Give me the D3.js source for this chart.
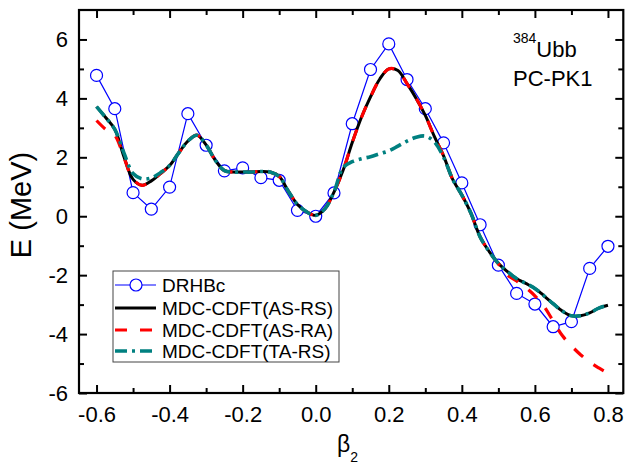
<!doctype html>
<html>
<head>
<meta charset='utf-8' />
<script src="https://cdn.jsdelivr.net/npm/d3@7"></script>
<style>
  body { margin: 0; background: #fff; }
  svg text { font-family: "Liberation Sans", Arial, sans-serif; fill: #000; }
</style>
</head>
<body>
<div id="chart"></div>
<script>
// DRHBc points (every 0.05 in beta2)
var drhbcBeta = [-0.6,-0.55,-0.5,-0.45,-0.4,-0.35,-0.3,-0.25,-0.2,-0.15,-0.1,-0.05,0.0,0.05,0.1,0.15,0.2,0.25,0.3,0.35,0.4,0.45,0.5,0.55,0.6,0.65,0.7,0.75,0.8];
var drhbcE = [4.78,3.65,0.80,0.24,0.99,3.48,2.41,1.54,1.64,1.31,1.22,0.20,0.0,0.79,3.14,4.98,5.85,4.64,3.65,2.49,1.13,-0.29,-1.66,-2.62,-2.98,-3.75,-3.58,-1.77,-1.02];

// MDC-CDFT(AS-RS)
var asrsBeta = [-0.6,-0.575,-0.55,-0.525,-0.5,-0.475,-0.45,-0.425,-0.4,-0.375,-0.35,-0.325,-0.3,-0.275,-0.25,-0.225,-0.2,-0.175,-0.15,-0.125,-0.1,-0.075,-0.05,-0.025,0.0,0.025,0.05,0.075,0.1,0.125,0.15,0.175,0.2,0.225,0.25,0.275,0.3,0.325,0.35,0.375,0.4,0.425,0.45,0.475,0.5,0.525,0.55,0.575,0.6,0.625,0.65,0.675,0.7,0.725,0.75,0.775,0.8];
var asrsE = [3.72,3.35,2.95,2.02,1.25,1.05,1.2,1.45,1.72,2.15,2.55,2.75,2.42,1.9,1.55,1.5,1.5,1.5,1.52,1.5,1.35,0.85,0.4,0.15,0.03,0.25,0.82,1.56,2.5,3.35,4.05,4.65,5.0,4.95,4.5,4.0,3.42,2.7,2.05,1.25,0.72,0.1,-0.7,-1.2,-1.6,-1.88,-2.12,-2.28,-2.45,-2.7,-2.97,-3.22,-3.38,-3.38,-3.28,-3.12,-3.02];

// MDC-CDFT(AS-RA)
var asraBeta = [-0.6,-0.575,-0.55,-0.525,-0.5,-0.475,-0.45,-0.425,-0.4,-0.375,-0.35,-0.325,-0.3,-0.275,-0.25,-0.225,-0.2,-0.175,-0.15,-0.125,-0.1,-0.075,-0.05,-0.025,0.0,0.025,0.05,0.075,0.1,0.125,0.15,0.175,0.2,0.225,0.25,0.275,0.3,0.325,0.35,0.375,0.4,0.425,0.45,0.475,0.5,0.525,0.55,0.575,0.6,0.625,0.65,0.675,0.7,0.725,0.75,0.775,0.8];
var asraE = [3.25,2.95,2.75,2.0,1.25,1.05,1.2,1.45,1.72,2.15,2.55,2.75,2.42,1.9,1.55,1.5,1.5,1.5,1.52,1.5,1.35,0.85,0.4,0.15,0.03,0.25,0.82,1.56,2.5,3.35,4.05,4.65,5.0,4.95,4.5,4.0,3.42,2.7,2.05,1.25,0.72,0.1,-0.7,-1.2,-1.62,-2.0,-2.2,-2.42,-2.7,-3.06,-3.56,-4.05,-4.4,-4.7,-4.95,-5.15,-5.33];

// MDC-CDFT(TA-RS)
var tarsBeta = [-0.6,-0.575,-0.55,-0.525,-0.5,-0.475,-0.45,-0.425,-0.4,-0.375,-0.35,-0.325,-0.3,-0.275,-0.25,-0.225,-0.2,-0.175,-0.15,-0.125,-0.1,-0.075,-0.05,-0.025,0.0,0.025,0.05,0.075,0.1,0.125,0.15,0.175,0.2,0.225,0.25,0.275,0.3,0.325,0.35,0.375,0.4,0.425,0.45,0.475,0.5,0.525,0.55,0.575,0.6,0.625,0.65,0.675,0.7,0.725,0.75,0.775,0.8];
var tarsE = [3.72,3.35,2.95,2.15,1.45,1.27,1.3,1.48,1.72,2.15,2.55,2.75,2.42,1.9,1.55,1.5,1.5,1.5,1.52,1.5,1.35,0.85,0.4,0.15,0.03,0.25,0.82,1.65,1.85,1.95,2.02,2.12,2.22,2.38,2.55,2.68,2.72,2.52,2.0,1.25,0.72,0.1,-0.7,-1.2,-1.6,-1.88,-2.12,-2.28,-2.45,-2.7,-2.97,-3.22,-3.38,-3.38,-3.28,-3.12,-3.02];

var xMajor = [-0.6,-0.4,-0.2,0.0,0.2,0.4,0.6,0.8];
var xMinor = [-0.5,-0.3,-0.1,0.1,0.3,0.5,0.7];
var yMajor = [-6,-4,-2,0,2,4,6];
var yMinor = [-5,-3,-1,1,3,5];

var legendNames = ["DRHBc","MDC-CDFT(AS-RS)","MDC-CDFT(AS-RA)","MDC-CDFT(TA-RS)"];

var W = 626, H = 464;
var L = 79, R = 623.3, T = 10, B = 393;

var svg = d3.select("#chart").append("svg").attr("width", W).attr("height", H);

var x = d3.scaleLinear().domain([-0.648, 0.842]).range([L, R]);
var y = d3.scaleLinear().domain([-6, 7]).range([B, T]);

function zip(bs, es) { return bs.map(function (b, i) { return [b, es[i]]; }); }

// axes, ticks inward
function addAxis(axis, tx, ty, vals, size, fmt, pad) {
  var g = svg.append("g").attr("transform", "translate(" + tx + "," + ty + ")")
    .call(axis.tickValues(vals).tickSize(size).tickPadding(pad).tickFormat(fmt));
  g.select(".domain").remove();
  g.selectAll(".tick line").attr("stroke", "#000").attr("stroke-width", 2);
  g.selectAll("text").style("font-size", "22px").attr("fill", "#000");
  return g;
}
var none = function () { return ""; };
var fx = function (d) { return d.toFixed(1); };
var fy = function (d) { return String(d); };

addAxis(d3.axisBottom(x), 0, B, xMajor, -8, fx, 13);
addAxis(d3.axisBottom(x), 0, B, xMinor, -5, none, 0);
addAxis(d3.axisTop(x), 0, T, xMajor, -8, none, 0);
addAxis(d3.axisTop(x), 0, T, xMinor, -5, none, 0);
addAxis(d3.axisLeft(y), L, 0, yMajor, -8, fy, 11);
addAxis(d3.axisLeft(y), L, 0, yMinor, -5, none, 0);
addAxis(d3.axisRight(y), R, 0, yMajor, -8, none, 0);
addAxis(d3.axisRight(y), R, 0, yMinor, -5, none, 0);

svg.append("rect").attr("x", L).attr("y", T).attr("width", R - L).attr("height", B - T)
  .attr("fill", "none").attr("stroke", "#000").attr("stroke-width", 2.2);

var line = d3.line().x(function (d) { return x(d[0]); }).y(function (d) { return y(d[1]); });
var smooth = d3.line().x(function (d) { return x(d[0]); }).y(function (d) { return y(d[1]); })
  .curve(d3.curveCatmullRom.alpha(0.5));

// DRHBc
var drhbc = zip(drhbcBeta, drhbcE);
svg.append("path").attr("d", line(drhbc)).attr("fill", "none").attr("stroke", "#0000ff").attr("stroke-width", 1.2);
svg.selectAll("circle.dr").data(drhbc).enter().append("circle")
  .attr("class", "dr").attr("cx", function (d) { return x(d[0]); }).attr("cy", function (d) { return y(d[1]); })
  .attr("r", 6).attr("fill", "#fff").attr("stroke", "#0000ff").attr("stroke-width", 1.2);

var styles = [
  { color: "#000000", dash: null, w: 3 },
  { color: "#ff0000", dash: "12,13", w: 3.2 },
  { color: "#008080", dash: "12,5,3,5", w: 3.6 }
];
var curves = [zip(asrsBeta, asrsE), zip(asraBeta, asraE), zip(tarsBeta, tarsE)];
curves.forEach(function (c, i) {
  svg.append("path").attr("d", smooth(c)).attr("fill", "none")
    .attr("stroke", styles[i].color).attr("stroke-width", styles[i].w)
    .attr("stroke-dasharray", styles[i].dash);
});

// legend
var lg = svg.append("g");
lg.append("rect").attr("x", 113).attr("y", 271).attr("width", 226).attr("height", 91)
  .attr("fill", "#fff").attr("stroke", "#444").attr("stroke-width", 1);
var rowY = [285, 308, 330, 351];
legendNames.forEach(function (n, i) {
  var yy = rowY[i];
  if (i === 0) {
    lg.append("line").attr("x1", 115).attr("x2", 156).attr("y1", yy).attr("y2", yy)
      .attr("stroke", "#0000ff").attr("stroke-width", 1.2);
    lg.append("circle").attr("cx", 136).attr("cy", yy).attr("r", 6)
      .attr("fill", "#fff").attr("stroke", "#0000ff").attr("stroke-width", 1.2);
  } else {
    var s = styles[i - 1];
    lg.append("line").attr("x1", 115).attr("x2", 156).attr("y1", yy).attr("y2", yy)
      .attr("stroke", s.color).attr("stroke-width", s.w).attr("stroke-dasharray", s.dash);
  }
  lg.append("text").attr("x", 162).attr("y", yy + 7).style("font-size", "19px").text(n);
});

// nucleus label
var t1 = svg.append("text").attr("x", 513).attr("y", 57).style("font-size", "22px");
t1.append("tspan").style("font-size", "14px").attr("dy", -14).text("384");
t1.append("tspan").attr("dy", 14).text("Ubb");
svg.append("text").attr("x", 513).attr("y", 86).style("font-size", "22px").text("PC-PK1");

// axis titles
svg.append("text").attr("transform", "translate(31,205) rotate(-90)")
  .attr("text-anchor", "middle").style("font-size", "29px").text("E (MeV)");
var xt = svg.append("text").attr("x", 337).attr("y", 452).style("font-size", "23px");
xt.append("tspan").text("β");
xt.append("tspan").style("font-size", "14px").attr("dy", 10).text("2");
</script>
</body>
</html>
